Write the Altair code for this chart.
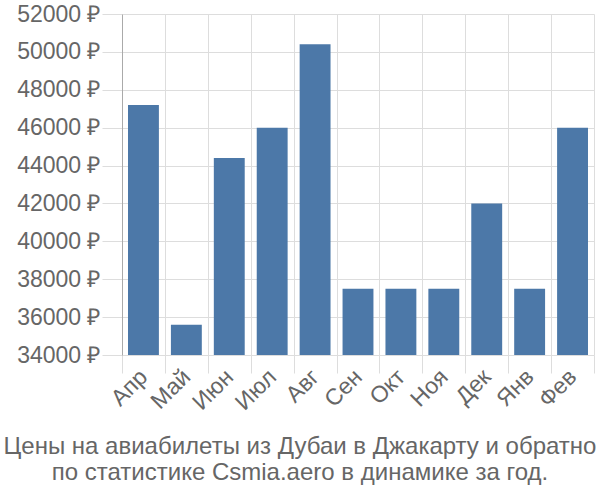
import altair as alt
import pandas as pd

months = ["Апр", "Май", "Июн", "Июл", "Авг", "Сен", "Окт", "Ноя", "Дек", "Янв", "Фев"]
prices = [47200, 35600, 44400, 46000, 50400, 37500, 37500, 37500, 42000, 37500, 46000]
y_ticks = list(range(34000, 52001, 2000))

df = pd.DataFrame({"month": months, "price": prices})

font = "Liberation Sans"

chart = alt.Chart(df).mark_bar(
    color="#4c78a8", width=alt.RelativeBandSize(0.72), clip=True
).encode(
    x=alt.X("month:N", sort=months, title=None,
            scale=alt.Scale(paddingInner=0, paddingOuter=0),
            axis=alt.Axis(tickBand="extent", labelAngle=-45, labelFontSize=23,
                          labelColor="#666666", labelFont=font, tickSize=18,
                          tickColor="#dddddd", gridColor="#dddddd", grid=True,
                          domain=False, labelPadding=0, labelBaseline="middle",
                          labelAlign="right")),
    y=alt.Y("price:Q", title=None,
            scale=alt.Scale(domain=[34000, 52000], nice=False, zero=False),
            axis=alt.Axis(values=y_ticks, labelExpr="datum.value + ' ₽'",
                          labelFontSize=23, labelColor="#666666", labelFont=font,
                          tickSize=20, tickColor="#dddddd", gridColor="#dddddd",
                          domainColor="#aaaaaa", labelPadding=2)),
).properties(
    width=472, height=341,
    autosize=alt.AutoSizeParams(type="none"),
    padding={"left": 122, "top": 14, "right": 6, "bottom": 145},
    title=alt.TitleParams(
        text=["Цены на авиабилеты из Дубаи в Джакарту и обратно",
              "по статистике Csmia.aero в динамике за год."],
        orient="bottom", anchor="middle", frame="group", dx=-58,
        fontSize=24, font=font, fontWeight="normal", color="#666666",
        lineHeight=26, offset=20),
).configure_view(stroke=None)

chart.save("out.html", embed_options={"renderer": "svg", "actions": False})
